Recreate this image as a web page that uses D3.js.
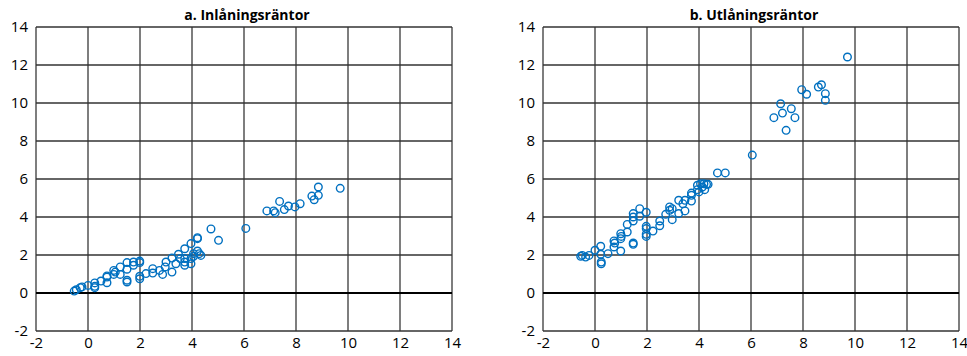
<!DOCTYPE html>
<html>
<head lang="en">
    <meta charset="UTF-8">
    <script type="text/javascript" src="https://cdn.jsdelivr.net/npm/d3@7/dist/d3.min.js"></script>
    <title></title>
</head>
<body style="margin:0;background:#fff;">
<style>
    svg text{ font-family: "Open Sans", "Liberation Sans", sans-serif; fill:#000; }
</style>
<script type="text/javascript">
    // axis ticks
    var ticks = [-2, 0, 2, 4, 6, 8, 10, 12, 14];
    var titles = ["a. Inlåningsräntor", "b. Utlåningsräntor"];

    // a. Inlåningsräntor
    var inX = [-0.53,-0.45,-0.3,-0.23,0,0.26,0.26,0.26,0.5,0.73,0.73,0.73,0.99,0.99,1.05,1.24,1.24,1.5,1.5,1.5,1.5,1.75,1.75,1.99,1.99,1.99,1.99,2.23,2.49,2.49,2.75,2.87,2.97,3.0,3.23,3.23,3.38,3.48,3.55,3.72,3.72,3.72,3.72,3.96,3.96,3.96,4.06,4.06,4.21,4.21,4.21,4.28,4.34,4.73,5.02,6.07,6.88,7.14,7.2,7.37,7.55,7.71,7.96,8.16,8.61,8.7,8.86,8.86,9.7];
    var inY = [0.1,0.17,0.28,0.32,0.4,0.53,0.35,0.28,0.63,0.54,0.84,0.9,1.19,0.98,1.1,1.37,0.98,1.6,1.25,0.67,0.58,1.63,1.46,1.68,1.6,0.88,0.75,1.02,1.28,1.05,1.19,0.98,1.37,1.63,1.84,1.1,1.54,2.04,1.81,2.33,1.81,1.63,1.46,2.6,1.81,1.54,1.93,2.07,2.86,2.91,2.21,2.07,1.98,3.37,2.77,3.4,4.32,4.32,4.23,4.82,4.39,4.58,4.53,4.7,5.1,4.91,5.58,5.14,5.51];

    // b. Utlåningsräntor
    var utX = [-0.55,-0.49,-0.36,-0.23,0,0.22,0.22,0.24,0.24,0.5,0.73,0.73,0.76,0.99,0.99,0.99,1.01,1.24,1.24,1.47,1.47,1.47,1.47,1.47,1.72,1.72,1.97,1.97,1.97,1.97,1.97,2.23,2.49,2.49,2.72,2.87,2.87,2.97,2.97,3.22,3.22,3.38,3.46,3.46,3.71,3.71,3.71,3.94,3.94,4.0,4.06,4.13,4.19,4.22,4.29,4.35,4.71,5.01,6.05,6.88,7.14,7.21,7.35,7.55,7.69,7.95,8.14,8.59,8.71,8.86,8.86,9.71];
    var utY = [1.93,1.98,1.89,1.98,2.25,2.46,2.04,1.63,1.54,2.07,2.42,2.74,2.63,2.21,2.86,3.12,2.98,3.21,3.61,2.63,2.56,3.79,4.0,4.18,4.44,4.04,4.25,3.51,3.39,3.09,2.98,3.26,3.79,3.54,4.14,4.53,4.35,3.86,4.44,4.88,4.18,4.7,4.88,4.32,5.26,5.14,4.84,5.67,5.44,5.32,5.75,5.58,5.75,5.44,5.72,5.72,6.32,6.32,7.26,9.23,9.96,9.47,8.56,9.7,9.23,10.7,10.46,10.84,10.96,10.49,10.14,12.42];

    var W = 967, H = 356;
    var svg = d3.select("body").append("svg")
            .attr("width", W)
            .attr("height", H);

    var panels = [
        {x0: 36, x1: 452, xs: inX, ys: inY},
        {x0: 543, x1: 959, xs: utX, ys: utY}
    ];
    var plotTop = 27, plotBottom = 331;
    var fmt = function(d){ return String(d); };   // hyphen minus like the original

    panels.forEach(function(p, k){
        var x = d3.scaleLinear().domain([-2, 14]).range([p.x0, p.x1]);
        var y = d3.scaleLinear().domain([-2, 14]).range([plotBottom, plotTop]);
        var g = svg.append("g");

        // vertical grid
        g.selectAll("line.vg").data(ticks).enter().append("line")
                .attr("class", "vg")
                .attr("x1", function(d){ return x(d); })
                .attr("x2", function(d){ return x(d); })
                .attr("y1", plotTop).attr("y2", plotBottom)
                .attr("stroke", "#707070").attr("stroke-width", 1.8);
        // horizontal grid
        g.selectAll("line.hg").data(ticks).enter().append("line")
                .attr("class", "hg")
                .attr("x1", p.x0).attr("x2", p.x1)
                .attr("y1", function(d){ return y(d); })
                .attr("y2", function(d){ return y(d); })
                .attr("stroke", function(d){ return d === 0 ? "#000" : "#333"; })
                .attr("stroke-width", function(d){ return d === 0 ? 2 : 1.5; });

        // axes labels
        var ya = d3.axisLeft(y).tickValues(ticks).tickFormat(fmt).tickSize(0).tickPadding(8);
        g.append("g").attr("transform", "translate(" + p.x0 + ",0)").call(ya)
                .call(function(s){ s.select(".domain").remove(); })
                .selectAll("text").style("font-size", "15px").attr("fill", "#000");
        var xa = d3.axisBottom(x).tickValues(ticks).tickFormat(fmt).tickSize(0).tickPadding(6);
        g.append("g").attr("transform", "translate(0," + plotBottom + ")").call(xa)
                .call(function(s){ s.select(".domain").remove(); })
                .selectAll("text").style("font-size", "15px").attr("fill", "#000");

        // title
        g.append("text")
                .attr("x", (p.x0 + p.x1) / 2 + 3)
                .attr("y", 20)
                .attr("text-anchor", "middle")
                .style("font-size", "14px")
                .style("font-weight", "bold")
                .text(titles[k]);

        // points
        g.selectAll("circle").data(p.xs).enter().append("circle")
                .attr("cx", function(d){ return x(d); })
                .attr("cy", function(d, i){ return y(p.ys[i]); })
                .attr("r", 3.8)
                .attr("fill", "none")
                .attr("stroke", "#0070c0")
                .attr("stroke-width", 1.4);
    });
</script>
</body>
</html>
